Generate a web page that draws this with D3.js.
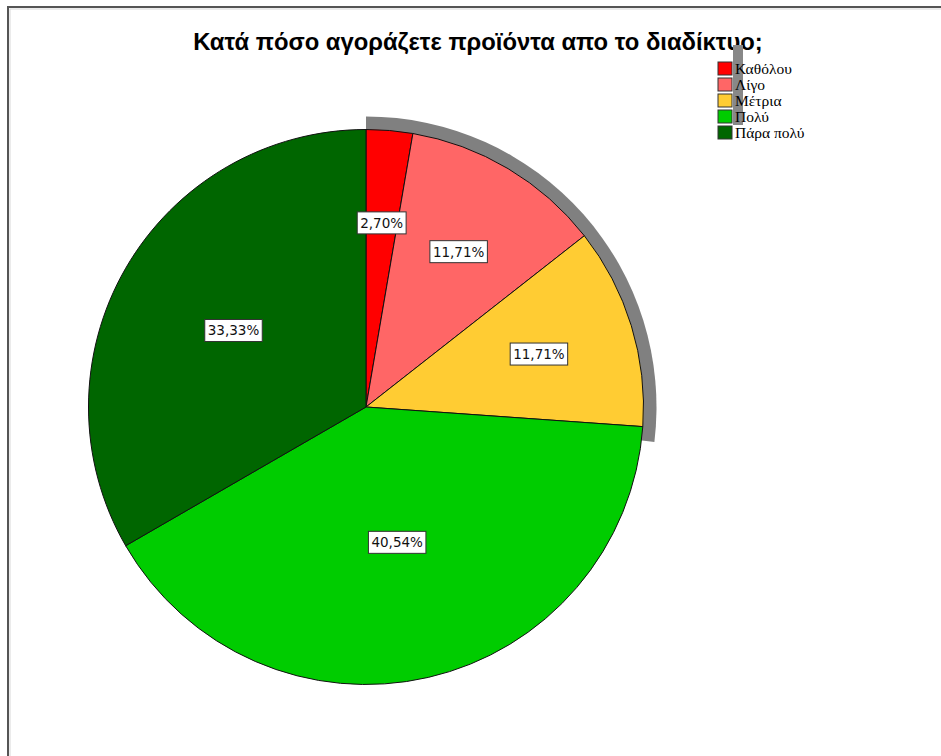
<!DOCTYPE html>
<html>
<head>
<meta charset="utf-8">
<script src="https://cdn.jsdelivr.net/npm/d3@7"></script>
<style>
  html, body { margin: 0; padding: 0; background: #fff; }
  svg { display: block; }
</style>
</head>
<body>
<svg id="chart" width="941" height="756"></svg>
<script>
// Survey answers: how much do you buy products online?
const categories = ["Καθόλου", "Λίγο", "Μέτρια", "Πολύ", "Πάρα πολύ"];
const counts = [3, 13, 13, 45, 37];
const colors = ["#ff0000", "#ff6666", "#ffcc33", "#00cc00", "#006600"];
const titleText = "Κατά πόσο αγοράζετε προϊόντα απο το διαδίκτυο;";

const W = 941, H = 756;
const cx = 366, cy = 407, radius = 277.5;
const total = d3.sum(counts);

const svg = d3.select("#chart");

// frame
svg.append("rect")
  .attr("x", 8).attr("y", 7)
  .attr("width", W + 20).attr("height", H + 20)
  .attr("fill", "none").attr("stroke", "#555").attr("stroke-width", 2);
svg.append("rect")
  .attr("x", 10).attr("y", 9)
  .attr("width", W + 20).attr("height", H + 20)
  .attr("fill", "none").attr("stroke", "#d8d8d8").attr("stroke-width", 1);

// title
const title = svg.append("text")
  .attr("x", 478).attr("y", 50)
  .attr("text-anchor", "middle")
  .attr("font-family", "Liberation Sans, Arial, sans-serif")
  .attr("font-weight", "bold")
  .attr("font-size", 20)
  .attr("fill", "#000")
  .text(titleText);
const tw = title.node().getComputedTextLength();
title.attr("font-size", 20 * 570 / tw);

// grey band behind the legend
svg.append("rect")
  .attr("x", 733).attr("y", 45)
  .attr("width", 10).attr("height", 80)
  .attr("fill", "#888");

const pie = d3.pie().sort(null).value(d => d);
const arcs = pie(counts);

const g = svg.append("g").attr("transform", `translate(${cx},${cy})`);

// depth shadow along the upper-right rim (first three slices), one smooth piece
const shadowArc = d3.arc().innerRadius(0).outerRadius(radius + 13);
g.append("path")
  .attr("class", "shadow")
  .attr("d", shadowArc({ startAngle: arcs[0].startAngle, endAngle: arcs[2].endAngle + 0.05 }))
  .attr("fill", "#808080");

const arc = d3.arc().innerRadius(0).outerRadius(radius);
g.selectAll("path.slice")
  .data(arcs)
  .join("path")
  .attr("class", "slice")
  .attr("d", arc)
  .attr("fill", (d, i) => colors[i])
  .attr("stroke", "#111")
  .attr("stroke-width", 1);

// labels placed at each sector's area centroid
const fmt = v => (v / total * 100).toFixed(2).replace(".", ",") + "%";
function centroid(d) {
  const a = (d.endAngle - d.startAngle) / 2;
  const mid = d.startAngle + a;
  const dist = 2 * radius * Math.sin(a) / (3 * a);
  return [dist * Math.sin(mid), -dist * Math.cos(mid)];
}
const lab = g.selectAll("g.lab")
  .data(arcs)
  .join("g")
  .attr("class", "lab")
  .attr("transform", d => `translate(${centroid(d)})`);
lab.each(function(d) {
  const el = d3.select(this);
  const t = el.append("text")
    .attr("text-anchor", "middle")
    .attr("dy", "0.36em")
    .attr("font-family", "DejaVu Sans, Verdana, sans-serif")
    .attr("font-size", 13.5)
    .attr("fill", "#111")
    .text(fmt(d.value));
  const w = t.node().getComputedTextLength();
  el.insert("rect", "text")
    .attr("x", -w / 2 - 3).attr("y", -11)
    .attr("width", w + 6).attr("height", 22)
    .attr("fill", "#fff")
    .attr("stroke", "#333")
    .attr("stroke-width", 1);
});

// legend
const legend = svg.append("g").attr("transform", "translate(718,62)");
const rows = legend.selectAll("g")
  .data(categories)
  .join("g")
  .attr("transform", (d, i) => `translate(0,${i * 16})`);
rows.append("rect")
  .attr("width", 14).attr("height", 13)
  .attr("fill", (d, i) => colors[i])
  .attr("stroke", "#333").attr("stroke-width", 1);
rows.append("text")
  .attr("x", 17).attr("y", 12)
  .attr("font-family", "Liberation Serif, Times New Roman, serif")
  .attr("font-size", 15.5)
  .attr("fill", "#000")
  .text(d => d);
</script>
</body>
</html>
